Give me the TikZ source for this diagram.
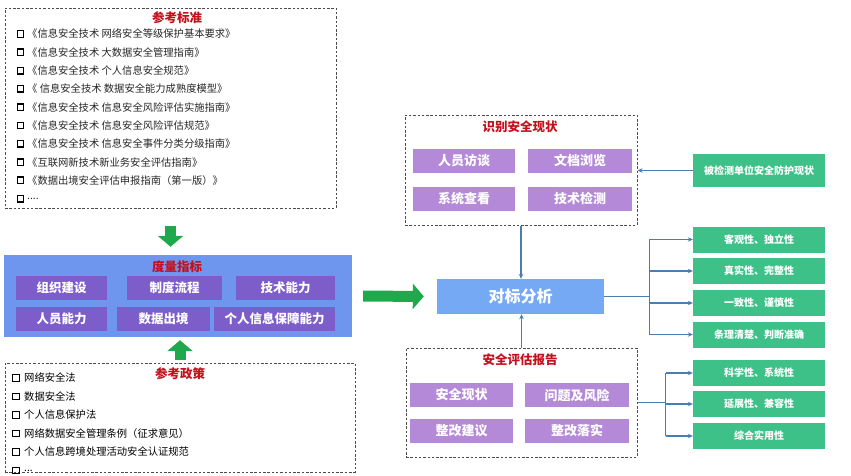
\documentclass[tikz,border=0pt]{standalone}
\usepackage{fontspec}
\setmainfont{Noto Sans CJK SC}
\usepackage{tikz}
\usetikzlibrary{positioning,calc,arrows.meta}

\definecolor{titlered}{HTML}{C3101C}
\definecolor{metricblue}{HTML}{6F96EE}
\definecolor{metricpurple}{HTML}{7D5DC9}
\definecolor{lavender}{HTML}{B48AD8}
\definecolor{benchblue}{HTML}{76A9F4}
\definecolor{okgreen}{HTML}{3EC189}
\definecolor{linkblue}{HTML}{4A7EB2}
\definecolor{arrowgreen}{HTML}{1EAA4C}

\begin{document}
\begin{tikzpicture}[x=1pt, y=-1pt,
  dashbox/.style={draw=black!70, line width=1pt, dash pattern=on 2.5pt off 1.8pt, inner sep=0pt},
  boxtitle/.style={text=titlered, font=\bfseries\fontsize{12.5}{14}\selectfont, inner sep=0pt},
  chkbox/.style={draw=black, line width=1.4pt, minimum size=6.5pt, inner sep=0pt},
  listtext/.style={anchor=west, inner sep=0pt, text=black!85, font=\fontsize{10.3}{12}\selectfont},
  metricbox/.style={fill=metricpurple, text=white, inner sep=0pt, minimum height=24pt, font=\bfseries\fontsize{12.5}{14}\selectfont},
  lavbox/.style={fill=lavender, text=white, inner sep=0pt, minimum height=24pt, font=\bfseries\fontsize{13}{15}\selectfont},
  greenbox/.style={fill=okgreen, text=white, inner sep=0pt, minimum width=132pt, minimum height=26pt, font=\bfseries\fontsize{10}{12}\selectfont},
  bigarrow/.style={arrowgreen, line width=11pt, -{Triangle[width=25pt,length=11pt]}},
  link/.style={draw=linkblue, line width=1.1pt},
  linkarrow/.style={link, -{Stealth[length=5pt,width=4.5pt]}}]
\useasboundingbox (0,0) rectangle (851,475);

%% Reference standards
\node[dashbox, minimum width=331pt, minimum height=200pt] (stdbox) at (170.5,108) {};
\node[boxtitle] (stdtitle) at (177,18) {参考标准};
\foreach \i/\txt in {0/{《信息安全技术 网络安全等级保护基本要求》},
                     1/{《信息安全技术 大数据安全管理指南》},
                     2/{《信息安全技术 个人信息安全规范》},
                     3/{《 信息安全技术 数据安全能力成熟度模型》},
                     4/{《信息安全技术 信息安全风险评估实施指南》},
                     5/{《信息安全技术 信息安全风险评估规范》},
                     6/{《信息安全技术 信息安全事件分类分级指南》},
                     7/{《互联网新技术新业务安全评估指南》},
                     8/{《数据出境安全评估申报指南（第一版）》},
                     9/{....}}{
  \node[chkbox] (stdchk\i) at (20.5,{34+18.3*\i}) {};
  \node[listtext] (std\i) at (27,{34+18.3*\i}) {\txt};
}

%% Metrics
\node[fill=metricblue, minimum width=348pt, minimum height=82pt, inner sep=0pt] (metric) at (178,296) {};
\node[boxtitle] (metrictitle) at (177,267) {度量指标};
\foreach \x/\y/\w/\txt [count=\k] in {61.5/288/91pt/组织建设, 174.5/288/95pt/制度流程,
    285.5/288/99pt/技术能力, 61.5/319/91pt/人员能力, 163.5/319/93pt/数据出境,
    274.5/319/121pt/个人信息保障能力}
  \node[metricbox, minimum width=\w] (m\k) at (\x,\y) {\txt};

%% Reference policies
\node[dashbox, minimum width=350pt, minimum height=109pt] (polbox) at (180,417.5) {};
\node[boxtitle] (poltitle) at (180,374) {参考政策};
\foreach \i/\txt in {0/网络安全法, 1/数据安全法, 2/个人信息保护法,
                     3/{网络数据安全管理条例（征求意见）},
                     4/个人信息跨境处理活动安全认证规范, 5/{...}}{
  \node[chkbox] (polchk\i) at (16,{378+18.5*\i}) {};
  \node[listtext, text=black] (pol\i) at (24,{378+18.5*\i}) {\txt};
}

%% Current state
\node[dashbox, minimum width=232pt, minimum height=110pt] (idbox) at (521,170) {};
\node[boxtitle] (idtitle) at (520,127) {识别安全现状};
\foreach \x/\y/\w/\txt [count=\k] in {464/160.5/102pt/人员访谈, 580/160.5/104pt/文档浏览,
    464/198.5/102pt/系统查看, 580/198.5/104pt/技术检测}
  \node[lavbox, minimum width=\w] (id\k) at (\x,\y) {\txt};

%% Benchmark analysis
\node[fill=benchblue, text=white, minimum width=167pt, minimum height=35pt, inner sep=0pt,
      font=\bfseries\fontsize{16}{18}\selectfont] (bench) at (520.5,296.5) {对标分析};

%% Assessment report
\node[dashbox, minimum width=231pt, minimum height=109pt] (report) at (521.5,402.5) {};
\node[boxtitle] (reporttitle) at (520,360) {安全评估报告};
\foreach \x/\y/\w/\txt [count=\k] in {461.5/395/103pt/安全现状, 577/395/104pt/问题及风险,
    461.5/430.5/103pt/整改建议, 577/430.5/104pt/整改落实}
  \node[lavbox, minimum width=\w] (rp\k) at (\x,\y) {\txt};

%% Right column
\node[greenbox, minimum height=33pt] (status) at (759,170.5) {被检测单位安全防护现状};
\foreach \y/\txt [count=\k] in {239.5/客观性、独立性, 271/真实性、完整性, 303/一致性、谨慎性,
    334.5/条理清楚、判断准确, 373/科学性、系统性, 404/延展性、兼容性, 436/综合实用性}
  \node[greenbox] (g\k) at (759,\y) {\txt};

%% Big arrows
\draw[bigarrow, shorten <=17pt, shorten >=8pt] (stdbox.south) -- (stdbox.south |- metric.north);
\draw[bigarrow, shorten <=3pt, shorten >=3pt] (polbox.north) -- (polbox.north |- metric.south);
\draw[bigarrow, shorten <=11pt, shorten >=13pt] (metric.east) -- (bench.west);

%% Thin connectors
\draw[linkarrow] (idbox.south) -- (idbox.south |- bench.north);
\draw[linkarrow] (report.north) -- (report.north |- bench.south);
\draw[linkarrow] (status.west) -- (status.west -| idbox.east);

\coordinate (fork1) at ($(bench.east)+(45,0)$);
\draw[link] (bench.east) -- (fork1);
\draw[link] (fork1 |- g1.west) -- (fork1 |- g4.west);
\foreach \g in {g1,g2,g3,g4}
  \draw[linkarrow] (fork1 |- \g.west) -- (\g.west);

\coordinate (fork2) at ($(report.east)+(28,0)$);
\draw[link] (report.east) -- (fork2);
\draw[link] (fork2 |- g5.west) -- (fork2 |- g7.west);
\foreach \g in {g5,g6,g7}
  \draw[linkarrow] (fork2 |- \g.west) -- (\g.west);
\end{tikzpicture}
\end{document}
